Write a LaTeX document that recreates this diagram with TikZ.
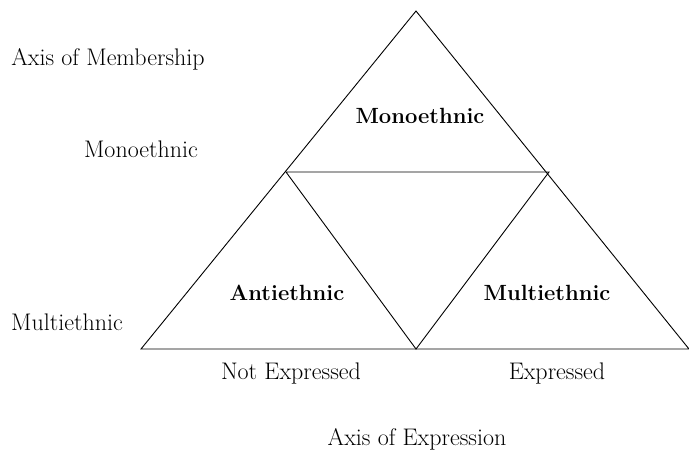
\documentclass[tikz,border=0pt]{standalone}
\usepackage{tikz}
\usetikzlibrary{positioning}
\tikzstyle{lbl} = [inner sep=0pt, font=\fontsize{24}{28}\selectfont]
\tikzstyle{cell} = [inner sep=0pt, font=\fontsize{22}{26}\selectfont\bfseries]
\tikzstyle{edge} = [line width=0.9pt, line join=miter]

\begin{document}
\begin{tikzpicture}[x=1pt,y=-1pt]
    \useasboundingbox (0,0) rectangle (689,453);
    % outer triangle and inner one
    \coordinate (top) at (416,11);
    \coordinate (bl) at (141,349);
    \coordinate (br) at (689,349);
    \coordinate (ml) at (286,172);
    \coordinate (mr) at (549,172);
    \coordinate (mb) at (416,349);
    \draw[edge] (top) -- (bl) -- (br) -- cycle;
    \draw[edge] (ml) -- (mr) -- (mb) -- cycle;
    \node[cell] (mono) at (420,116) {Monoethnic};
    \node[cell] (anti) at (287,293) {Antiethnic};
    \node[cell] (multi) at (547,293) {Multiethnic};
    \node[lbl] (memb) at (108,59) {Axis of Membership};
    \node[lbl] (lmono) at (141,149) {Monoethnic};
    \node[lbl] (lmulti) at (67,322) {Multiethnic};
    \node[lbl] (notexp) at (291,374) {Not Expressed};
    \node[lbl] (exp) at (557,374) {Expressed};
    \node[lbl] (expr) at (417,439) {Axis of Expression};
\end{tikzpicture}
\end{document}
